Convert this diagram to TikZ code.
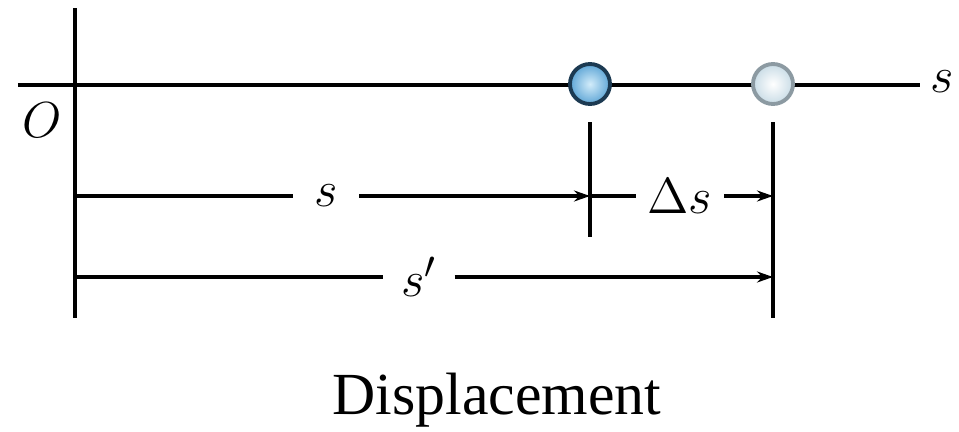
\documentclass[tikz,border=0pt]{standalone}
\usepackage{fontspec}
\setmainfont{Liberation Serif}
\usetikzlibrary{arrows.meta}

\definecolor{ballin}{HTML}{D2ECFA}
\definecolor{ballout}{HTML}{5FA6D6}
\definecolor{balledge}{HTML}{1C3A52}
\definecolor{palein}{HTML}{FFFFFF}
\definecolor{paleout}{HTML}{C9DCE6}
\definecolor{paleedge}{HTML}{8C9AA2}

\begin{document}
\begin{tikzpicture}[x=0.1mm, y=-0.1mm,
    line width=1pt,
    dimarrow/.style={-{Stealth[length=1.6mm, width=1.1mm]}},
    lbl/.style={font=\fontsize{15}{18}\selectfont, inner sep=1pt},
    dimlbl/.style={lbl, inner xsep=2mm, inner ysep=0pt},
    ball/.style={circle, minimum size=4mm, inner sep=0pt, line width=1.1pt}]
  \useasboundingbox (0,0) rectangle (959,432);

  % axis and origin
  \coordinate (axL) at (18,85);
  \coordinate (axR) at (920,85);
  \coordinate (oTop) at (75,8);
  \coordinate (oBot) at (75,318);
  \draw (axL) -- (axR);
  \draw (oTop) -- (oBot);
  \node[lbl] (sAxis) at (942,82) {$s$};
  \node[lbl] (origin) at (42,120) {$O$};

  % particle positions
  \node[ball, inner color=ballin, outer color=ballout, draw=balledge] (p1) at (590,84) {};
  \node[ball, inner color=palein, outer color=paleout, draw=paleedge] (p2) at (773,84) {};

  % extension lines
  \coordinate (t1Top) at (590,122);
  \coordinate (t1Bot) at (590,237);
  \coordinate (t2Top) at (773,122);
  \coordinate (t2Bot) at (773,318);
  \draw (t1Top) -- (t1Bot);
  \draw (t2Top) -- (t2Bot);

  % dimension s
  \coordinate (d1L) at (75,196);
  \coordinate (d1M) at (590,196);
  \coordinate (d1R) at (773,196);
  \node[dimlbl] (sLbl) at (326,196) {$s$};
  \draw (d1L) -- (sLbl.west);
  \draw[dimarrow] (sLbl.east) -- (d1M);

  % dimension delta s
  \node[dimlbl, inner xsep=1mm] (dsLbl) at (680,196) {$\Delta s$};
  \draw (d1M) -- (dsLbl.west);
  \draw[dimarrow] (dsLbl.east) -- (d1R);

  % dimension s'
  \coordinate (d2L) at (75,277);
  \coordinate (d2R) at (773,277);
  \node[dimlbl, inner xsep=1.6mm] (spLbl) at (419,277) {$s'$};
  \draw (d2L) -- (spLbl.west);
  \draw[dimarrow] (spLbl.east) -- (d2R);

  % caption
  \node[font=\fontsize{17}{20}\selectfont] (caption) at (497,400) {Displacement};
\end{tikzpicture}
\end{document}
